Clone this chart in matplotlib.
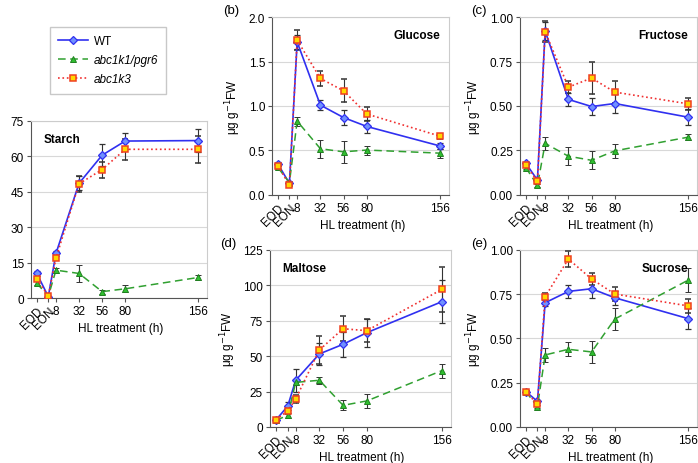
import numpy as np
import matplotlib
matplotlib.use("Agg")
import matplotlib.pyplot as plt
from matplotlib.lines import Line2D

plt.rcParams['font.family'] = ['Liberation Sans', 'DejaVu Sans']
plt.rcParams['font.size'] = 8

hours = [-12, 0, 8, 32, 56, 80, 156]
tick_labels = ['EOD', 'EON', '8', '32', '56', '80', '156']

# starch
starch_wt = [10.4, 0.6, 18.9, 48.6, 60.5, 66.5, 66.7]
starch_wt_err = [1.0, 0.3, 1.0, 3.0, 4.6, 3.5, 5.0]
starch_pgr6 = [6.3, 0.7, 11.8, 10.4, 2.7, 3.9, 8.7]
starch_pgr6_err = [1.0, 0.3, 1.0, 3.6, 0.8, 1.5, 1.0]
starch_k3 = [8.0, 0.8, 16.9, 48.4, 54.4, 63.0, 63.0]
starch_k3_err = [1.0, 0.3, 1.0, 3.5, 3.4, 4.5, 5.6]

# glucose
glucose_wt = [0.35, 0.13, 1.72, 1.01, 0.87, 0.77, 0.55]
glucose_wt_err = [0.02, 0.02, 0.08, 0.06, 0.08, 0.07, 0.03]
glucose_pgr6 = [0.31, 0.14, 0.83, 0.52, 0.485, 0.505, 0.47]
glucose_pgr6_err = [0.02, 0.02, 0.05, 0.10, 0.12, 0.05, 0.05]
glucose_k3 = [0.33, 0.11, 1.74, 1.31, 1.17, 0.91, 0.66]
glucose_k3_err = [0.02, 0.02, 0.11, 0.08, 0.13, 0.08, 0.03]

# fructose
fructose_wt = [0.178, 0.084, 0.921, 0.537, 0.497, 0.514, 0.437]
fructose_wt_err = [0.01, 0.01, 0.05, 0.035, 0.05, 0.055, 0.045]
fructose_pgr6 = [0.154, 0.054, 0.29, 0.218, 0.195, 0.248, 0.325]
fructose_pgr6_err = [0.01, 0.01, 0.035, 0.05, 0.05, 0.04, 0.015]
fructose_k3 = [0.169, 0.077, 0.917, 0.606, 0.657, 0.578, 0.512]
fructose_k3_err = [0.01, 0.01, 0.06, 0.035, 0.09, 0.06, 0.035]

# maltose
maltose_wt = [4.9, 14.8, 33.0, 51.6, 58.4, 66.6, 88.5]
maltose_wt_err = [1.0, 3.0, 8.0, 8.0, 8.7, 10.0, 15.0]
maltose_pgr6 = [4.7, 8.2, 31.5, 33.0, 15.3, 18.4, 39.8]
maltose_pgr6_err = [1.0, 1.5, 2.0, 2.5, 3.5, 5.0, 5.0]
maltose_k3 = [5.2, 11.3, 19.8, 54.4, 69.4, 68.0, 97.2]
maltose_k3_err = [1.0, 2.0, 3.0, 10.0, 9.0, 8.0, 16.0]

# sucrose
sucrose_wt = [0.20, 0.145, 0.702, 0.766, 0.781, 0.73, 0.612]
sucrose_wt_err = [0.01, 0.01, 0.02, 0.035, 0.055, 0.04, 0.06]
sucrose_pgr6 = [0.20, 0.115, 0.407, 0.439, 0.424, 0.61, 0.83]
sucrose_pgr6_err = [0.01, 0.01, 0.04, 0.04, 0.06, 0.06, 0.07]
sucrose_k3 = [0.20, 0.128, 0.736, 0.949, 0.836, 0.751, 0.684]
sucrose_k3_err = [0.01, 0.01, 0.02, 0.047, 0.035, 0.04, 0.04]

WT = dict(color='#3030f0', ls='-', lw=1.2, marker='D', ms=3.8, mfc='#7090ff', mec='#3030f0', mew=0.9)
PGR6 = dict(color='#30a030', ls=(0, (5, 3)), lw=1.1, marker='^', ms=5, mfc='#30c030', mec='#208020', mew=0.7)
K3 = dict(color='#f03030', ls=':', lw=1.2, marker='s', ms=4.8, mfc='#ffd800', mec='#f04020', mew=1.1)


def panel(ax, ylim, yticks, yfmt, series, title, title_left, letter, ylab=True):
    for vals, errs, style in series:
        ax.errorbar(hours, vals, yerr=errs, ecolor='#333333', elinewidth=0.8,
                    capsize=2, capthick=0.8, zorder=3, **style)
    ax.set_xlim(-18, 165)
    ax.set_ylim(*ylim)
    ax.set_yticks(yticks)
    ax.set_yticklabels([yfmt.format(v) for v in yticks])
    ax.set_xticks(hours)
    ax.set_xticklabels(tick_labels)
    for lab in ax.get_xticklabels()[:2]:
        lab.set_rotation(45)
        lab.set_ha('right')
        lab.set_rotation_mode('anchor')
    ax.yaxis.grid(True, color='#d8d8d8', lw=0.8, zorder=0)
    ax.set_axisbelow(True)
    for s in ['top', 'right']:
        ax.spines[s].set_color('#cccccc')
    for s in ['left', 'bottom']:
        ax.spines[s].set_color('#555555')
    ax.tick_params(direction='out', length=3, color='#555555', labelsize=8.5, pad=2)
    ax.set_xlabel('HL treatment (h)', fontsize=8.5)
    ax.xaxis.set_label_coords(0.51, -0.135)
    if ylab:
        ax.set_ylabel('μg g$^{-1}$FW', fontsize=8.5)
    if title_left:
        ax.text(0.07, 0.93, title, transform=ax.transAxes, fontweight='bold', fontsize=8.5, va='top')
    else:
        ax.text(0.95, 0.93, title, transform=ax.transAxes, fontweight='bold', fontsize=8.5, va='top', ha='right')
    ax.text(-0.23, 1.04, letter, transform=ax.transAxes, fontsize=9.5, ha='center', va='center')


fig = plt.figure(figsize=(6.98, 4.64), dpi=100)

ax_a = fig.add_axes([0.0444, 0.3556, 0.252, 0.3815])
ax_b = fig.add_axes([0.3897, 0.5776, 0.2536, 0.3836])
ax_c = fig.add_axes([0.745, 0.5776, 0.2536, 0.3836])
ax_d = fig.add_axes([0.3868, 0.0776, 0.259, 0.3815])
ax_e = fig.add_axes([0.745, 0.0776, 0.2536, 0.3815])

panel(ax_a, (0, 75), [0, 15, 30, 45, 60, 75], '{:g}',
      [(starch_wt, starch_wt_err, WT), (starch_pgr6, starch_pgr6_err, PGR6), (starch_k3, starch_k3_err, K3)],
      'Starch', True, '(a)')
panel(ax_b, (0, 2.0), [0, 0.5, 1.0, 1.5, 2.0], '{:.1f}',
      [(glucose_wt, glucose_wt_err, WT), (glucose_pgr6, glucose_pgr6_err, PGR6), (glucose_k3, glucose_k3_err, K3)],
      'Glucose', False, '(b)')
panel(ax_c, (0, 1.0), [0, 0.25, 0.5, 0.75, 1.0], '{:.2f}',
      [(fructose_wt, fructose_wt_err, WT), (fructose_pgr6, fructose_pgr6_err, PGR6), (fructose_k3, fructose_k3_err, K3)],
      'Fructose', False, '(c)')
panel(ax_d, (0, 125), [0, 25, 50, 75, 100, 125], '{:g}',
      [(maltose_wt, maltose_wt_err, WT), (maltose_pgr6, maltose_pgr6_err, PGR6), (maltose_k3, maltose_k3_err, K3)],
      'Maltose', True, '(d)')
panel(ax_e, (0, 1.0), [0, 0.25, 0.5, 0.75, 1.0], '{:.2f}',
      [(sucrose_wt, sucrose_wt_err, WT), (sucrose_pgr6, sucrose_pgr6_err, PGR6), (sucrose_k3, sucrose_k3_err, K3)],
      'Sucrose', False, '(e)')

handles = [Line2D([], [], **WT), Line2D([], [], **PGR6), Line2D([], [], **K3)]
leg = fig.legend(handles, ['WT', 'abc1k1/pgr6', 'abc1k3'], loc='upper left',
                 bbox_to_anchor=(50 / 698, 1 - 28 / 464), borderaxespad=0, fontsize=8.5,
                 fancybox=False, edgecolor='#bbbbbb', handlelength=2.5, handletextpad=0.5,
                 borderpad=0.7, labelspacing=0.6)
for t in leg.get_texts()[1:]:
    t.set_style('italic')

fig.savefig('out.png', dpi=100)
